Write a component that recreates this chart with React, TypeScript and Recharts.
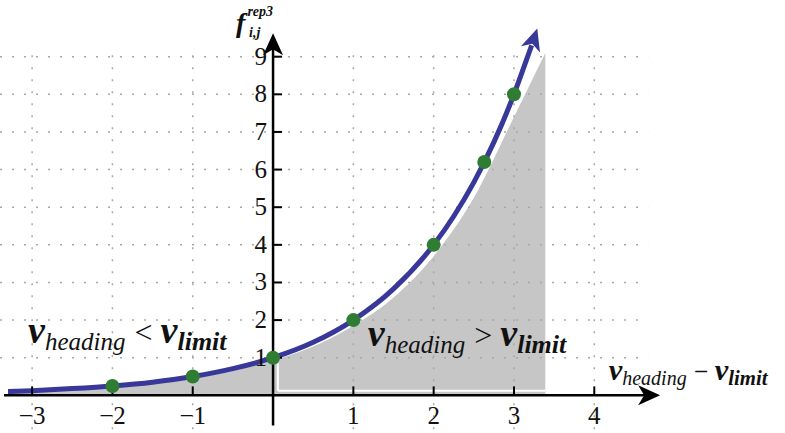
import {
  ComposedChart,
  Area,
  Line,
  Scatter,
  XAxis,
  YAxis,
  ReferenceLine,
  ReferenceDot
} from 'recharts'

// curve f = 2^x
const curveX = [-3.3, -3, -2.5, -2, -1.5, -1, -0.5, 0, 0.5, 1, 1.5, 2, 2.25, 2.5, 2.75, 3, 3.15, 3.22]
const curveY = [0.1, 0.125, 0.18, 0.25, 0.35, 0.5, 0.71, 1, 1.41, 2, 2.83, 4, 4.76, 5.66, 6.73, 8, 8.88, 9.3]

// grey region under the curve (slightly lagging the blue line)
const fillX = [-3.3, -2, -1, 0, 0.5, 1, 1.5, 2, 2.5, 3, 3.39]
const fillY = [0.08, 0.22, 0.45, 0.93, 1.3, 1.85, 2.6, 3.7, 5.25, 7.4, 9.1]

// green markers
const pointX = [-2, -1, 0, 1, 2, 2.63, 3]
const pointY = [0.25, 0.5, 1, 2, 4, 6.2, 8]

const xTicks = [-3, -2, -1, 1, 2, 3, 4]
const xTickLabels = ['−3', '−2', '−1', '1', '2', '3', '4']
const yTicks = [1, 2, 3, 4, 5, 6, 7, 8, 9]

const BLUE = '#38379a'
const GREEN = '#2f7d32'
const GREY = '#c6c6c6'
const SERIF = 'Liberation Serif'

const curveData = curveX.map((x, i) => ({ x, y: curveY[i] }))
const fillData = fillX.map((x, i) => ({ x, y: fillY[i] }))
const pointData = pointX.map((x, i) => ({ x, y: pointY[i] }))
const xTickData = xTicks.map((x, i) => ({ x, y: 0, label: xTickLabels[i] }))
const yTickData = yTicks.map(y => ({ x: 0, y }))

const gridStyle = { stroke: '#a8a8a8', strokeWidth: 1.5, strokeDasharray: '2 10' }

function Arrow({ cx, cy, angle, color }: { cx: number; cy: number; angle: number; color: string }) {
  return (
    <path
      d="M0,0 L-22,-10 L-16,0 L-22,10 Z"
      fill={color}
      transform={`translate(${cx},${cy}) rotate(${angle})`}
    />
  )
}

function MathLabel({ cx, cy, op, s = 1 }: { cx: number; cy: number; op: string; s?: number }) {
  return (
    <text x={cx} y={cy} fontFamily={SERIF} fill="#111">
      <tspan fontSize={38 * s} fontWeight="bold" fontStyle="italic">v</tspan>
      <tspan fontSize={25 * s} fontStyle="italic" dy={7 * s}>heading</tspan>
      <tspan fontSize={32 * s} dx={9 * s} dy={-7 * s}>{op}</tspan>
      <tspan fontSize={38 * s} fontWeight="bold" fontStyle="italic" dx={8 * s}>v</tspan>
      <tspan fontSize={26 * s} fontWeight="bold" fontStyle="italic" dy={7 * s}>limit</tspan>
    </text>
  )
}

export default function App() {
  return (
    <div style={{ position: 'absolute', left: 0, top: 0, background: '#fff' }}>
      <ComposedChart width={785} height={433} margin={{ top: 4, right: 6, bottom: 0, left: 0 }}>
        <XAxis type="number" dataKey="x" domain={[-3.4, 6.3]} hide allowDataOverflow />
        <YAxis type="number" dataKey="y" domain={[-1, 10.4]} hide allowDataOverflow />

        {xTicks.map(x => (
          <ReferenceLine key={`gx${x}`} segment={[{ x, y: -0.9 }, { x, y: 9.3 }]} {...gridStyle} />
        ))}
        {yTicks.map(y => (
          <ReferenceLine key={`gy${y}`} segment={[{ x: -3.4, y }, { x: 4.67, y }]} {...gridStyle} />
        ))}

        <Area
          data={fillData}
          dataKey="y"
          type="monotone"
          baseValue={0}
          fill={GREY}
          fillOpacity={1}
          stroke="none"
          isAnimationActive={false}
        />
        <ReferenceLine segment={[{ x: 0.06, y: 0.12 }, { x: 0.06, y: 0.85 }]} stroke="#fff" strokeWidth={2} />
        <ReferenceLine segment={[{ x: 0.06, y: 0.12 }, { x: 3.39, y: 0.12 }]} stroke="#fff" strokeWidth={2} />

        {/* axes */}
        <ReferenceLine segment={[{ x: -3.35, y: 0 }, { x: 4.7, y: 0 }]} stroke="#000" strokeWidth={2.5} />
        <ReferenceLine segment={[{ x: 0, y: -0.8 }, { x: 0, y: 9.45 }]} stroke="#000" strokeWidth={2.5} />
        <ReferenceDot x={4.82} y={0} r={0} shape={(p: any) => <Arrow cx={p.cx} cy={p.cy} angle={0} color="#000" />} />
        <ReferenceDot x={0} y={9.62} r={0} shape={(p: any) => <Arrow cx={p.cx} cy={p.cy} angle={-90} color="#000" />} />

        <Scatter
          data={xTickData}
          dataKey="y"
          isAnimationActive={false}
          shape={(p: any) => (
            <g>
              <line x1={p.cx} x2={p.cx} y1={p.cy - 9} y2={p.cy} stroke="#000" strokeWidth={2} />
              <text x={p.cx} y={p.cy + 29} textAnchor="middle" fontFamily={SERIF} fontSize={25} fill="#111">
                {p.payload.label}
              </text>
            </g>
          )}
        />
        <Scatter
          data={yTickData}
          dataKey="y"
          isAnimationActive={false}
          shape={(p: any) => (
            <g>
              <line x1={p.cx} x2={p.cx + 9} y1={p.cy} y2={p.cy} stroke="#000" strokeWidth={2} />
              <text x={p.cx - 6} y={p.cy + 8} textAnchor="end" fontFamily={SERIF} fontSize={25} fill="#111">
                {p.payload.y}
              </text>
            </g>
          )}
        />

        <Line
          data={curveData}
          dataKey="y"
          type="monotone"
          stroke={BLUE}
          strokeWidth={5}
          dot={false}
          activeDot={false}
          isAnimationActive={false}
        />
        <ReferenceDot x={3.29} y={9.75} r={0} shape={(p: any) => <Arrow cx={p.cx} cy={p.cy} angle={-72} color={BLUE} />} />
        <Scatter data={pointData} dataKey="y" fill={GREEN} isAnimationActive={false}
          shape={(p: any) => <circle cx={p.cx} cy={p.cy} r={7} fill={GREEN} />} />

        {/* annotations */}
        <ReferenceDot x={-0.46} y={9.65} r={0} shape={(p: any) => (
          <text x={p.cx} y={p.cy} fontFamily={SERIF} fill="#111">
            <tspan fontSize={28} fontWeight="bold" fontStyle="italic">f</tspan>
            <tspan fontSize={14} fontWeight="bold" fontStyle="italic" dx={2} dy={-16}>rep3</tspan>
            <tspan fontSize={14} fontWeight="bold" fontStyle="italic" x={p.cx + 13} dy={21}>i,j</tspan>
          </text>
        )} />
        <ReferenceDot x={-3.05} y={1.4} r={0} shape={(p: any) => <MathLabel cx={p.cx} cy={p.cy} op="<" />} />
        <ReferenceDot x={1.18} y={1.3} r={0} shape={(p: any) => <MathLabel cx={p.cx} cy={p.cy} op=">" />} />
        <ReferenceDot x={4.18} y={0.42} r={0} shape={(p: any) => <MathLabel cx={p.cx} cy={p.cy} op="−" s={0.8} />} />
      </ComposedChart>
    </div>
  )
}
